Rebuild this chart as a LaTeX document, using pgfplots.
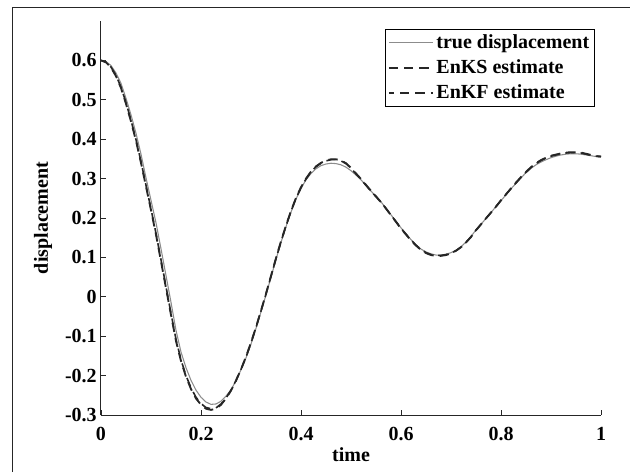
\documentclass[border=0pt]{standalone}
\usepackage{pgfplots}
\pgfplotsset{compat=1.18}
\usepackage{pgfplotstable}
\usepackage{fontspec}
\setmainfont{Liberation Serif}

\pgfplotstableread{
t v
0.00 0.600
0.01 0.597
0.02 0.587
0.03 0.568
0.04 0.542
0.05 0.504
0.06 0.462
0.07 0.415
0.08 0.362
0.09 0.302
0.10 0.245
0.11 0.188
0.12 0.122
0.13 0.054
0.14 -0.014
0.15 -0.085
0.16 -0.140
0.17 -0.180
0.18 -0.212
0.19 -0.237
0.20 -0.255
0.21 -0.267
0.22 -0.273
0.23 -0.272
0.24 -0.265
0.25 -0.252
0.26 -0.236
0.27 -0.213
0.28 -0.185
0.29 -0.155
0.30 -0.120
0.31 -0.080
0.32 -0.038
0.33 0.005
0.34 0.050
0.35 0.095
0.36 0.138
0.37 0.178
0.38 0.215
0.39 0.248
0.40 0.275
0.41 0.297
0.42 0.313
0.43 0.325
0.44 0.333
0.45 0.337
0.46 0.339
0.47 0.338
0.48 0.335
0.49 0.329
0.50 0.320
0.51 0.309
0.52 0.297
0.53 0.282
0.54 0.268
0.55 0.255
0.56 0.241
0.57 0.225
0.58 0.208
0.59 0.192
0.60 0.175
0.61 0.160
0.62 0.145
0.63 0.132
0.64 0.121
0.65 0.114
0.66 0.109
0.67 0.106
0.68 0.106
0.69 0.108
0.70 0.112
0.71 0.118
0.72 0.127
0.73 0.139
0.74 0.153
0.75 0.170
0.76 0.184
0.77 0.199
0.78 0.214
0.79 0.229
0.80 0.244
0.81 0.259
0.82 0.274
0.83 0.288
0.84 0.302
0.85 0.315
0.86 0.326
0.87 0.335
0.88 0.342
0.89 0.348
0.90 0.353
0.91 0.357
0.92 0.360
0.93 0.362
0.94 0.363
0.95 0.363
0.96 0.362
0.97 0.360
0.98 0.358
0.99 0.356
1.00 0.355
}\truedata

\pgfplotstableread{
t v
0.00 0.600
0.01 0.595
0.02 0.582
0.03 0.560
0.04 0.530
0.05 0.490
0.06 0.445
0.07 0.396
0.08 0.340
0.09 0.280
0.10 0.220
0.11 0.158
0.12 0.090
0.13 0.022
0.14 -0.046
0.15 -0.112
0.16 -0.163
0.17 -0.203
0.18 -0.234
0.19 -0.258
0.20 -0.274
0.21 -0.284
0.22 -0.287
0.23 -0.284
0.24 -0.274
0.25 -0.258
0.26 -0.238
0.27 -0.213
0.28 -0.184
0.29 -0.152
0.30 -0.116
0.31 -0.077
0.32 -0.035
0.33 0.008
0.34 0.053
0.35 0.098
0.36 0.141
0.37 0.181
0.38 0.218
0.39 0.251
0.40 0.278
0.41 0.300
0.42 0.318
0.43 0.331
0.44 0.340
0.45 0.346
0.46 0.349
0.47 0.349
0.48 0.346
0.49 0.339
0.50 0.327
0.51 0.313
0.52 0.299
0.53 0.284
0.54 0.269
0.55 0.255
0.56 0.240
0.57 0.224
0.58 0.207
0.59 0.190
0.60 0.173
0.61 0.158
0.62 0.143
0.63 0.130
0.64 0.119
0.65 0.111
0.66 0.106
0.67 0.104
0.68 0.104
0.69 0.106
0.70 0.110
0.71 0.117
0.72 0.126
0.73 0.138
0.74 0.152
0.75 0.169
0.76 0.184
0.77 0.199
0.78 0.214
0.79 0.229
0.80 0.245
0.81 0.260
0.82 0.275
0.83 0.290
0.84 0.304
0.85 0.317
0.86 0.329
0.87 0.339
0.88 0.347
0.89 0.353
0.90 0.358
0.91 0.361
0.92 0.364
0.93 0.366
0.94 0.367
0.95 0.367
0.96 0.366
0.97 0.363
0.98 0.360
0.99 0.357
1.00 0.356
}\enksdata

\pgfplotstableread{
t v
0.00 0.600
0.01 0.596
0.02 0.583
0.03 0.562
0.04 0.532
0.05 0.493
0.06 0.448
0.07 0.399
0.08 0.343
0.09 0.283
0.10 0.223
0.11 0.161
0.12 0.094
0.13 0.026
0.14 -0.042
0.15 -0.108
0.16 -0.160
0.17 -0.200
0.18 -0.231
0.19 -0.255
0.20 -0.271
0.21 -0.281
0.22 -0.284
0.23 -0.282
0.24 -0.272
0.25 -0.257
0.26 -0.237
0.27 -0.212
0.28 -0.184
0.29 -0.153
0.30 -0.117
0.31 -0.078
0.32 -0.036
0.33 0.007
0.34 0.052
0.35 0.097
0.36 0.140
0.37 0.180
0.38 0.217
0.39 0.250
0.40 0.277
0.41 0.299
0.42 0.317
0.43 0.330
0.44 0.339
0.45 0.345
0.46 0.348
0.47 0.348
0.48 0.345
0.49 0.338
0.50 0.326
0.51 0.312
0.52 0.298
0.53 0.283
0.54 0.268
0.55 0.254
0.56 0.240
0.57 0.224
0.58 0.207
0.59 0.191
0.60 0.174
0.61 0.159
0.62 0.144
0.63 0.131
0.64 0.120
0.65 0.112
0.66 0.107
0.67 0.105
0.68 0.105
0.69 0.107
0.70 0.111
0.71 0.117
0.72 0.126
0.73 0.138
0.74 0.152
0.75 0.169
0.76 0.184
0.77 0.199
0.78 0.214
0.79 0.229
0.80 0.245
0.81 0.260
0.82 0.275
0.83 0.289
0.84 0.303
0.85 0.316
0.86 0.328
0.87 0.338
0.88 0.346
0.89 0.352
0.90 0.357
0.91 0.360
0.92 0.363
0.93 0.365
0.94 0.366
0.95 0.366
0.96 0.365
0.97 0.362
0.98 0.359
0.99 0.357
1.00 0.356
}\enkfdata

\definecolor{truegray}{gray}{0.55}
\definecolor{dashdark}{gray}{0.15}
\definecolor{axisdark}{gray}{0.15}

\begin{document}
\begin{tikzpicture}
\useasboundingbox (-75.75pt,-42.75pt) rectangle (396.75pt,311.25pt);
\draw[axisdark, line width=0.75pt] (-66pt,-42.75pt) -- (-66pt,305.25pt) -- (396.75pt,305.25pt);
\begin{axis}[
  scale only axis,
  width=375pt, height=295.5pt,
  xmin=0, xmax=1, ymin=-0.3, ymax=0.7,
  axis x line*=bottom, axis y line*=left,
  axis line style={axisdark, line width=0.75pt},
  tick style={axisdark, line width=0.6pt},
  tick align=inside,
  major tick length=4pt,
  xtick={0,0.2,0.4,0.6,0.8,1},
  xticklabels={0,0.2,0.4,0.6,0.8,1},
  ytick={-0.3,-0.2,-0.1,0,0.1,0.2,0.3,0.4,0.5,0.6},
  yticklabels={-0.3,-0.2,-0.1,0,0.1,0.2,0.3,0.4,0.5,0.6},
  font=\fontsize{15}{18}\selectfont\bfseries,
  xticklabel style={inner sep=0pt, anchor=north, yshift=-9pt},
  yticklabel style={inner sep=0pt, anchor=east, xshift=-3pt},
  xlabel={time}, ylabel={displacement},
  every axis x label/.style={at={(axis description cs:0.5,-0.1168)}, anchor=base},
  every axis y label/.style={at={(axis description cs:-0.106,0.5)}, rotate=90, anchor=base},
  legend style={at={(rel axis cs:0.988,0.980)}, anchor=north east,
    draw=black, line width=0.75pt, inner xsep=2pt, inner ysep=1pt,
    font=\fontsize{15}{18}\selectfont\bfseries,
    nodes={text height=11pt, text depth=3pt, inner sep=2pt},
    row sep=0.75pt},
  legend cell align=left,
  legend image code/.code={\draw[#1] (0pt,0pt) -- (33pt,0pt);},
  clip=false,
]
\addplot[truegray, line width=0.8pt] table[x=t,y=v] {\truedata};
\addlegendentry{true displacement}
\addplot[dashdark, line width=1.4pt, dash pattern=on 7pt off 4.5pt] table[x=t,y=v] {\enksdata};
\addlegendentry{EnKS estimate}
\addplot[dashdark, line width=1.2pt, dash pattern=on 7pt off 4.5pt, dash phase=3pt] table[x=t,y=v] {\enkfdata};
\addlegendentry{EnKF estimate}
\end{axis}
\end{tikzpicture}
\end{document}
